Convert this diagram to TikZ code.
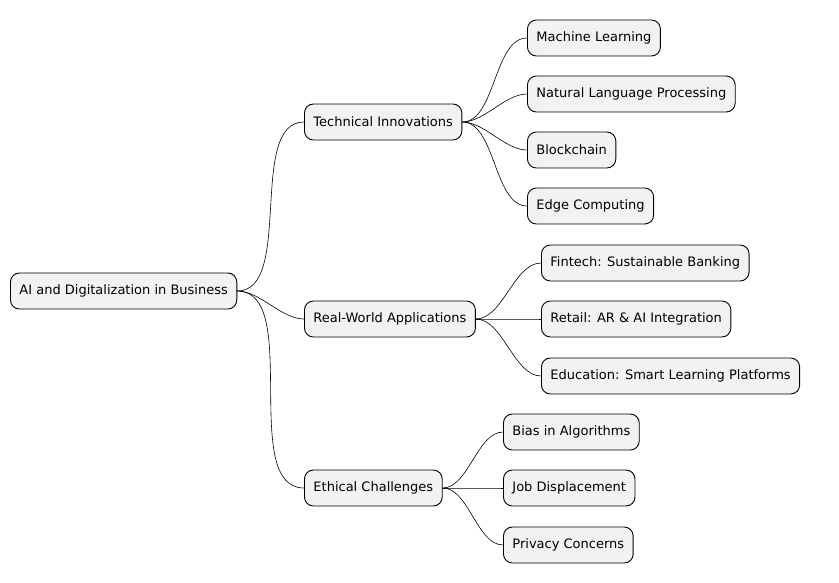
\documentclass[tikz,border=0pt]{standalone}
\usepackage{fontspec}
\setmainfont{DejaVu Sans}
\tikzset{topic/.style={draw=black,fill=black!5,rounded corners=9pt,anchor=west,
  minimum height=36pt,inner xsep=9pt,font=\fontsize{13}{15}\selectfont,line width=0.9pt},
  branch/.style={draw=black,line width=0.6pt,out=0,in=180,looseness=0.8}}
\begin{document}
\begin{tikzpicture}[x=1pt,y=-1pt]
	\useasboundingbox (0,0) rectangle (839,582);
	\node [topic] (root) at (10,291) {AI and Digitalization in Business};
	\node [topic] (tech) at (304,122) {Technical Innovations};
	\node [topic] (real) at (304,319) {Real-World Applications};
	\node [topic] (ethic) at (304,488) {Ethical Challenges};
	\node [topic] (ml) at (527,38) {Machine Learning};
	\node [topic] (nlp) at (527,94) {Natural Language Processing};
	\node [topic] (block) at (527,150) {Blockchain};
	\node [topic] (edge) at (527,206) {Edge Computing};
	\node [topic] (fin) at (541,263) {Fintech: Sustainable Banking};
	\node [topic] (retail) at (541,319) {Retail: AR \& AI Integration};
	\node [topic] (edu) at (541,376) {Education: Smart Learning Platforms};
	\node [topic] (bias) at (503,432) {Bias in Algorithms};
	\node [topic] (job) at (503,488) {Job Displacement};
	\node [topic] (priv) at (503,545) {Privacy Concerns};
	\foreach \a/\b in {root/tech,root/real,root/ethic,tech/ml,tech/nlp,tech/block,tech/edge,
	  real/fin,real/retail,real/edu,ethic/bias,ethic/job,ethic/priv}
		\draw [branch] (\a.east) to (\b.west);
\end{tikzpicture}
\end{document}
